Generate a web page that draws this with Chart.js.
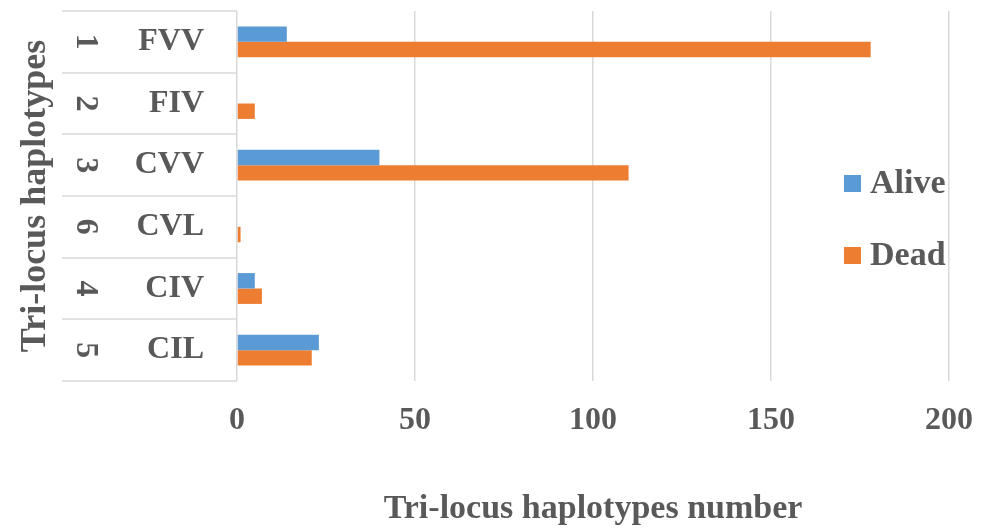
<!DOCTYPE html>
<html>
<head>
<meta charset="utf-8">
<script src="https://cdn.jsdelivr.net/npm/chart.js@4/dist/chart.umd.min.js"></script>
<style>
  html, body { margin: 0; padding: 0; background: #ffffff; }
  canvas { display: block; }
</style>
</head>
<body>
<canvas id="chart" width="988" height="531"></canvas>
<script>
// Tri-locus haplotypes and their counts
const haplotypes   = ['FVV', 'FIV', 'CVV', 'CVL', 'CIV', 'CIL'];
const haplotypeIds = ['1', '2', '3', '6', '4', '5'];
const aliveCounts  = [14, 0, 40, 0, 5, 23];
const deadCounts   = [178, 5, 110, 1, 7, 21];
const countTicks   = [0, 50, 100, 150, 200];

const TEXT = '#595959';
const GRID = '#d9d9d9';
const FAMILY = "'Liberation Serif', 'Times New Roman', serif";

// Draws the id column, row separators and the in-plot legend
const sidePanel = {
  id: 'sidePanel',
  afterDraw(chart) {
    const { ctx, chartArea, scales: { y } } = chart;
    ctx.save();

    ctx.strokeStyle = GRID;
    ctx.lineWidth = 1.5;
    for (let i = 0; i <= haplotypes.length; i++) {
      const py = Math.round(y.getPixelForValue(i - 0.5));
      ctx.beginPath();
      ctx.moveTo(62, py);
      ctx.lineTo(chartArea.left, py);
      ctx.stroke();
    }

    ctx.fillStyle = TEXT;
    ctx.font = 'bold 32px ' + FAMILY;
    ctx.textAlign = 'center';
    ctx.textBaseline = 'middle';
    haplotypeIds.forEach((id, i) => {
      ctx.save();
      ctx.translate(85, y.getPixelForValue(i));
      ctx.rotate(Math.PI / 2);
      ctx.fillText(id, 0, 0);
      ctx.restore();
    });

    const legendRows = [184, 256];
    ctx.font = 'bold 34px ' + FAMILY;
    ctx.textAlign = 'left';
    chart.data.datasets.forEach((ds, i) => {
      const cy = legendRows[i];
      ctx.fillStyle = ds.backgroundColor;
      ctx.fillRect(844, cy - 9, 17, 17);
      ctx.fillStyle = TEXT;
      ctx.fillText(ds.label, 870, cy);
    });

    ctx.restore();
  }
};

new Chart(document.getElementById('chart'), {
  type: 'bar',
  data: {
    labels: haplotypes,
    datasets: [
      { label: 'Alive', data: aliveCounts, backgroundColor: '#5b9bd5' },
      { label: 'Dead',  data: deadCounts,  backgroundColor: '#ed7d31' }
    ]
  },
  options: {
    indexAxis: 'y',
    responsive: false,
    animation: false,
    layout: { padding: { top: 11, right: 39, bottom: 0, left: 0 } },
    datasets: {
      bar: { categoryPercentage: 0.5, barPercentage: 1.0, borderWidth: 0 }
    },
    plugins: {
      legend: { display: false },
      tooltip: { enabled: false }
    },
    scales: {
      x: {
        min: 0,
        max: 200,
        afterBuildTicks: (scale) => { scale.ticks = countTicks.map(v => ({ value: v })); },
        afterFit: (scale) => {
          scale.height = 150;
          scale.paddingLeft = 0;
          scale.paddingRight = 0;
        },
        grid: { color: GRID, lineWidth: 1.5, drawTicks: false },
        border: { display: false },
        ticks: {
          color: TEXT,
          padding: 21,
          maxRotation: 0,
          font: { family: FAMILY, size: 32, weight: 'bold' }
        },
        title: {
          display: true,
          text: 'Tri-locus haplotypes number',
          color: TEXT,
          padding: { top: 0, bottom: 1 },
          font: { family: FAMILY, size: 34, weight: 'bold' }
        }
      },
      y: {
        afterFit: (scale) => {
          scale.width = 237;
          scale.paddingTop = 0;
          scale.paddingBottom = 0;
        },
        grid: { display: false, drawTicks: false },
        border: { display: false },
        ticks: {
          color: TEXT,
          padding: 33,
          font: { family: FAMILY, size: 32, weight: 'bold' }
        },
        title: {
          display: true,
          text: 'Tri-locus haplotypes',
          color: TEXT,
          padding: { top: 14, bottom: 0 },
          font: { family: FAMILY, size: 36, weight: 'bold' }
        }
      }
    }
  },
  plugins: [sidePanel]
});
</script>
</body>
</html>
